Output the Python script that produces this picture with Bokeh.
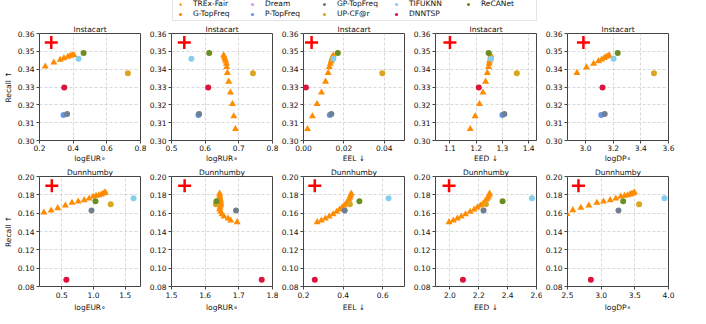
import math
from bokeh.plotting import figure
from bokeh.models import Legend, LegendItem, Range1d, FixedTicker, PrintfTickFormatter
from bokeh.layouts import column, row
from bokeh.embed import file_html
from bokeh.resources import INLINE

NAN = float("nan")
FONT = "DejaVu Sans"
FS = "7.5px"

# ---------------- data ----------------
series_names = ["TREx-Fair", "G-TopFreq", "Dream", "P-TopFreq", "GP-TopFreq", "UP-CF@r", "TIFUKNN", "DNNTSP", "ReCANet"]
series_colors = ["#ff8c00", "#ff8c00", "#c9a0dc", "#6495ed", "#708090", "#daa520", "#87ceeb", "#dc143c", "#6b8e23"]

# baselines (order: G-TopFreq, Dream, P-TopFreq, GP-TopFreq, UP-CF@r, TIFUKNN, DNNTSP, ReCANet)
base_names = ["G-TopFreq", "Dream", "P-TopFreq", "GP-TopFreq", "UP-CF@r", "TIFUKNN", "DNNTSP", "ReCANet"]

inst_base_recall = [NAN, NAN, 0.3143, 0.3148, 0.3377, 0.3458, 0.3297, 0.3490]
inst_base_logEUR = [NAN, NAN, 0.343, 0.364, 0.725, 0.432, 0.347, 0.462]
inst_base_logRUR = [NAN, NAN, 0.580, 0.582, 0.742, 0.559, 0.609, 0.612]
inst_base_EEL = [NAN, NAN, 0.0130, 0.0138, 0.0390, 0.0148, 0.0012, 0.0170]
inst_base_EED = [NAN, NAN, 1.300, 1.3075, 1.355, 1.256, 1.210, 1.2475]
inst_base_logDP = [NAN, NAN, 3.114, 3.139, 3.495, 3.203, 3.123, 3.233]

dunn_base_recall = [NAN, NAN, NAN, 0.1629, 0.1698, 0.1764, 0.0873, 0.1731]
dunn_base_logEUR = [NAN, NAN, NAN, 0.969, 1.271, 1.630, 0.573, 1.031]
dunn_base_logRUR = [NAN, NAN, NAN, 1.6917, 1.6317, NAN, 1.768, 1.6336]
dunn_base_EEL = [NAN, NAN, NAN, 0.408, 0.434, 0.6295, 0.257, 0.482]
dunn_base_EED = [NAN, NAN, NAN, 2.233, 2.249, 2.568, 2.090, 2.365]
dunn_base_logDP = [NAN, NAN, NAN, 3.257, 3.564, 3.941, 2.847, 3.327]

# ideal point (red plus)
inst_ideal = {"recall": 0.355, "logEUR": 0.27, "logRUR": 0.538, "EEL": 0.004, "EED": 1.10, "logDP": 2.985}
dunn_ideal = {"recall": 0.19, "logEUR": 0.344, "logRUR": 1.539, "EEL": 0.257, "EED": 1.994, "logDP": 2.663}

# TREx-Fair trade-off curves
inst_trex_recall = [0.3064, 0.3136, 0.3205, 0.3269, 0.3330, 0.3379, 0.3412, 0.3430, 0.3445, 0.3456, 0.3467, 0.3478]
inst_trex_logEUR_x = [0.234, 0.285, 0.323, 0.345, 0.368, 0.382, 0.394, 0.404]
inst_trex_logEUR_y = [0.3415, 0.3437, 0.3453, 0.3462, 0.3470, 0.3475, 0.3478, 0.3479]
inst_trex_logRUR = [0.690, 0.685, 0.681, 0.675, 0.670, 0.666, 0.664, 0.663, 0.661, 0.659, 0.657, 0.655]
inst_trex_EEL = [0.0020, 0.0044, 0.0067, 0.0089, 0.0109, 0.0122, 0.0128, 0.0133, 0.0137, 0.0140, 0.0143, 0.0147]
inst_trex_EED = [1.1775, 1.196, 1.2125, 1.226, 1.236, 1.2425, 1.2475, 1.250, 1.251, 1.254, 1.255, 1.256]
inst_trex_logDP_x = [2.938, 3.007, 3.059, 3.094, 3.117, 3.135, 3.149, 3.163, 3.172]
inst_trex_logDP_y = [0.3379, 0.3410, 0.3430, 0.3445, 0.3454, 0.3463, 0.3470, 0.3474, 0.3476]

dunn_trex_recall = [0.1502, 0.1520, 0.1542, 0.1564, 0.1589, 0.1615, 0.1640, 0.1662, 0.1684, 0.1702, 0.1727, 0.1749, 0.1771, 0.1793, 0.1815]
dunn_trex_logEUR_x = [0.219, 0.333, 0.4375, 0.557, 0.661, 0.760, 0.854, 0.932, 0.995, 1.040, 1.083, 1.120, 1.151, 1.172, 1.1875]
dunn_trex_logEUR_y = [0.1607, 0.1629, 0.1655, 0.1684, 0.1713, 0.1727, 0.1742, 0.1760, 0.1782, 0.1789, 0.1796, 0.1804, 0.1815, 0.1822, 0.1825]
dunn_trex_logRUR = [1.695, 1.676, 1.668, 1.656, 1.650, 1.646, 1.643, 1.644, 1.646, 1.647, 1.646, 1.645, 1.644, 1.643, 1.643]
dunn_trex_EEL = [0.269, 0.290, 0.310, 0.3295, 0.349, 0.367, 0.382, 0.395, 0.405, 0.415, 0.423, 0.4295, 0.434, 0.438, 0.441]
dunn_trex_EED = [1.994, 2.0235, 2.051, 2.078, 2.108, 2.140, 2.168, 2.190, 2.211, 2.229, 2.243, 2.255, 2.264, 2.271, 2.275]
dunn_trex_logDP_x = [2.49, 2.579, 2.698, 2.817, 2.936, 3.035, 3.134, 3.218, 3.292, 3.347, 3.391, 3.426, 3.450, 3.475, 3.495]
dunn_trex_logDP_y = [0.1590, 0.1633, 0.1658, 0.1684, 0.1713, 0.1727, 0.1742, 0.1760, 0.1782, 0.1789, 0.1796, 0.1804, 0.1811, 0.1818, 0.1825]

# axes
inst_yticks = [0.30, 0.31, 0.32, 0.33, 0.34, 0.35, 0.36]
dunn_yticks = [0.08, 0.10, 0.12, 0.14, 0.16, 0.18, 0.20]
x_labels = ["logEUR∘", "logRUR∘", "EEL ↓", "EED ↓", "logDP∘"]
inst_xranges = [(0.2, 0.8), (0.5, 0.8), (0.0, 0.05), (1.045, 1.43), (2.87, 3.6)]
inst_xticks = [[0.2, 0.4, 0.6, 0.8], [0.5, 0.6, 0.7, 0.8], [0.0, 0.02, 0.04], [1.1, 1.2, 1.3, 1.4], [3.0, 3.2, 3.4, 3.6]]
inst_xfmt = ["%.1f", "%.1f", "%.2f", "%.1f", "%.1f"]
dunn_xranges = [(0.15, 1.74), (1.5, 1.8), (0.2, 0.71), (1.9, 2.6), (2.5, 4.0)]
dunn_xticks = [[0.5, 1.0, 1.5], [1.5, 1.6, 1.7, 1.8], [0.2, 0.4, 0.6], [2.0, 2.2, 2.4, 2.6], [2.5, 3.0, 3.5, 4.0]]
dunn_xfmt = ["%.1f", "%.1f", "%.1f", "%.1f", "%.1f"]

FRAME_W = 101


def make_panel(i, title, xr, yr, xticks, yticks, xfmt, xlabel, trex_x, trex_y, base_x, base_y, ideal_x, ideal_y, top):
    left = 30 if i == 0 else 25
    right = 12 if i == 4 else 6
    p = figure(frame_width=FRAME_W, frame_height=107 if top else 110,
               x_range=Range1d(*xr), y_range=Range1d(*yr),
               output_backend="svg", toolbar_location=None,
               min_border_left=left, min_border_right=right,
               min_border_top=12 if top else 0, min_border_bottom=0)
    p.title.text = title
    p.title.align = "center"
    p.title.text_font = FONT
    p.title.text_font_size = FS
    p.title.text_font_style = "normal"
    p.title.standoff = 0
    p.title.text_color = "#111111"
    p.xaxis.ticker = FixedTicker(ticks=xticks)
    p.yaxis.ticker = FixedTicker(ticks=yticks)
    p.xaxis.formatter = PrintfTickFormatter(format=xfmt)
    p.yaxis.formatter = PrintfTickFormatter(format="%.2f")
    p.xaxis.axis_label = xlabel
    if i == 0:
        p.yaxis.axis_label = "Recall ↑"
    for ax in (p.xaxis[0], p.yaxis[0]):
        ax.axis_line_color = None
        ax.major_tick_out = 3
        ax.major_tick_in = 0
        ax.minor_tick_line_color = None
        ax.major_tick_line_color = "#444444"
        ax.major_label_text_font = FONT
        ax.major_label_text_font_size = FS
        ax.major_label_text_color = "#111111"
        ax.major_label_standoff = 2
        ax.axis_label_text_font = FONT
        ax.axis_label_text_font_size = FS
        ax.axis_label_text_font_style = "normal"
        ax.axis_label_text_color = "#111111"
        ax.axis_label_standoff = 2
    if top:
        p.xaxis[0].major_label_standoff = 1
        p.xaxis[0].axis_label_standoff = 0
    p.grid.grid_line_color = "#c8c8c8"
    p.grid.grid_line_dash = "3 2"
    p.grid.grid_line_width = 0.7
    p.outline_line_color = "#444444"
    p.outline_line_width = 1
    p.scatter(trex_x, trex_y, marker="triangle", size=7, color=series_colors[0], line_color=None)
    for k in range(len(base_names)):
        p.scatter([base_x[k]], [base_y[k]], marker="circle", size=6, color=series_colors[k + 1], line_color=None)
    p.scatter([ideal_x], [ideal_y], marker="cross", size=13, line_color="red", line_width=2.5)
    return p


top_keys = ["logEUR", "logRUR", "EEL", "EED", "logDP"]
inst_base_x = [inst_base_logEUR, inst_base_logRUR, inst_base_EEL, inst_base_EED, inst_base_logDP]
dunn_base_x = [dunn_base_logEUR, dunn_base_logRUR, dunn_base_EEL, dunn_base_EED, dunn_base_logDP]
inst_tx = [inst_trex_logEUR_x, inst_trex_logRUR, inst_trex_EEL, inst_trex_EED, inst_trex_logDP_x]
inst_ty = [inst_trex_logEUR_y, inst_trex_recall, inst_trex_recall, inst_trex_recall, inst_trex_logDP_y]
dunn_tx = [dunn_trex_logEUR_x, dunn_trex_logRUR, dunn_trex_EEL, dunn_trex_EED, dunn_trex_logDP_x]
dunn_ty = [dunn_trex_logEUR_y, dunn_trex_recall, dunn_trex_recall, dunn_trex_recall, dunn_trex_logDP_y]

top_figs = []
bot_figs = []
for i in range(5):
    top_figs.append(make_panel(i, "Instacart", inst_xranges[i], (0.30, 0.36), inst_xticks[i], inst_yticks, inst_xfmt[i],
                               x_labels[i], inst_tx[i], inst_ty[i], inst_base_x[i], inst_base_recall,
                               inst_ideal[top_keys[i]], inst_ideal["recall"], True))
    bot_figs.append(make_panel(i, "Dunnhumby", dunn_xranges[i], (0.08, 0.20), dunn_xticks[i], dunn_yticks, dunn_xfmt[i],
                               x_labels[i], dunn_tx[i], dunn_ty[i], dunn_base_x[i], dunn_base_recall,
                               dunn_ideal[top_keys[i]], dunn_ideal["recall"], False))

# legend figure
TOTAL_W = 680
lf = figure(width=TOTAL_W, height=21, x_axis_type=None, y_axis_type=None, output_backend="svg",
            toolbar_location=None, min_border=0, x_range=Range1d(0, 1), y_range=Range1d(0, 1))
lf.outline_line_color = None
lf.grid.visible = False
renderers = {}
for k, name in enumerate(series_names):
    mk = "triangle" if k == 0 else "circle"
    renderers[name] = lf.scatter(x=[NAN], y=[NAN], marker=mk, size=6, color=series_colors[k], line_color=None)
row_order = ["TREx-Fair", "Dream", "GP-TopFreq", "TIFUKNN", "ReCANet", "G-TopFreq", "P-TopFreq", "UP-CF@r", "DNNTSP"]
legend = Legend(items=[LegendItem(label=n, renderers=[renderers[n]]) for n in row_order],
                orientation="horizontal", ncols=5, location=(172, 0))
legend.label_text_font = FONT
legend.label_text_font_size = FS
legend.label_text_color = "#111111"
legend.glyph_width = 10
legend.glyph_height = 8
legend.label_height = 8
legend.label_width = 53
legend.label_standoff = 8
legend.spacing = 1
legend.padding = 2
legend.margin = 0
legend.border_line_color = "#cccccc"
legend.border_line_width = 1
legend.background_fill_alpha = 1
lf.add_layout(legend, "center")

layout = column(lf, row(*top_figs), row(*bot_figs))
open("out.html", "w").write(file_html(layout, INLINE))
